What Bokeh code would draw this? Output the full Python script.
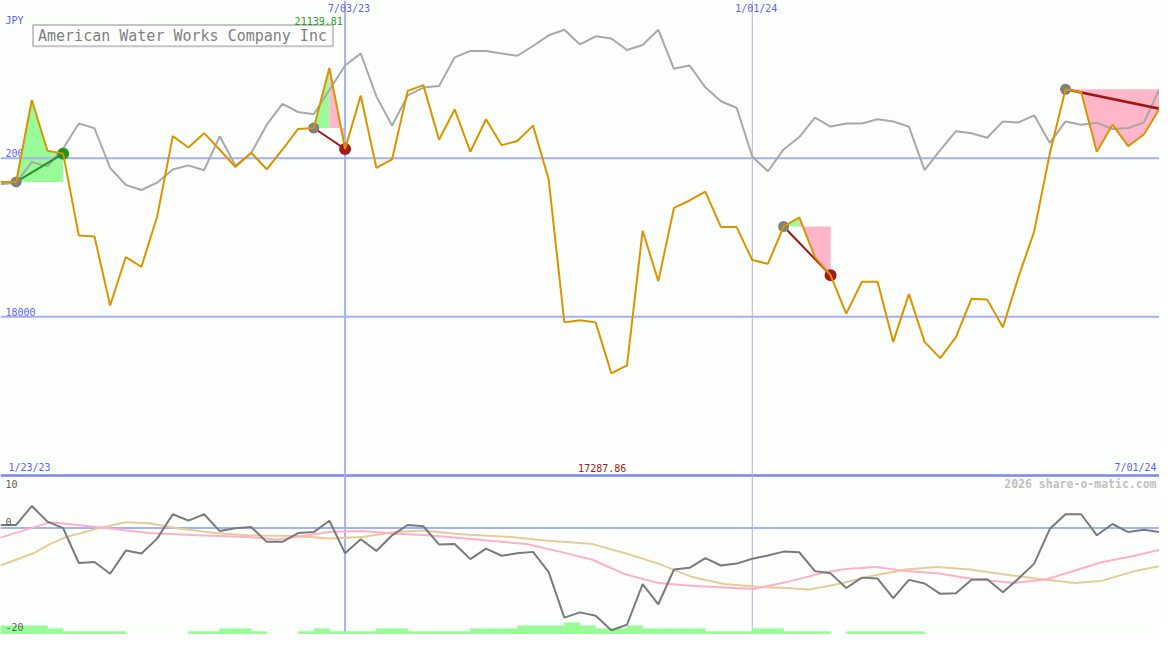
import pandas as pd
from bokeh.plotting import figure
from bokeh.models import Range1d
from bokeh.core.properties import value
from bokeh.embed import file_html
from bokeh.resources import INLINE

# ---------------- data ----------------
dates = pd.date_range("2023-01-30", periods=75, freq="7D")
date_ticks = ["7/03/23", "1/01/24"]
edge_labels = ["1/23/23", "7/01/24"]
price_ticks = [20000, 18000]
title = "American Water Works Company Inc"
currency = "JPY"

price = [19701, 19701, 20734, 20095, 20058, 19025, 19012, 18143, 18754, 18631,
         19262, 20279, 20135, 20316, 20107, 19889, 20070, 19861, 20107, 20369,
         20381, 21139.81, 20116, 20792, 19877, 19984, 20849, 20922, 20234, 20615,
         20082, 20492, 20165, 20218, 20411, 19734, 17930, 17958, 17930, 17287.86,
         17389, 19086, 18450, 19373, 19467, 19578, 19132, 19132, 18717, 18668,
         19139, 19255, 18754, 18524, 18041, 18443, 18443, 17684, 18287, 17684,
         17479, 17745, 18229, 18217, 17868, 18504, 19078, 20062, 20870, 20833,
         20082, 20423, 20153, 20300, 20624]

compare = [19673, 19692, 19951, 19898, 20123, 20439, 20378, 19877, 19664, 19599,
           19692, 19857, 19910, 19849, 20276, 19907, 20062, 20423, 20685, 20583,
           20554, 20861, 21169, 21321, 20780, 20411, 20792, 20891, 20910, 21272,
           21353, 21353, 21321, 21292, 21415, 21550, 21620, 21435, 21538, 21509,
           21365, 21427, 21620, 21128, 21169, 20894, 20718, 20636, 20021, 19836,
           20111, 20267, 20513, 20399, 20439, 20439, 20492, 20464, 20399, 19849,
           20103, 20341, 20316, 20258, 20464, 20451, 20541, 20193, 20464, 20423,
           20448, 20369, 20381, 20451, 20873]

momentum = [0.55, 0.55, 4.10, 1.17, -0.05, -6.59, -6.40, -8.60, -4.26, -4.81,
            -2.01, 2.56, 1.35, 2.56, -0.60, -0.05, 0.18, -2.62, -2.62, -0.97,
            -0.79, 1.35, -4.76, -2.12, -4.32, -1.39, 0.55, 0.31, -3.11, -3.04,
            -5.86, -3.90, -5.23, -4.76, -4.50, -8.29, -16.83, -15.85, -16.47, -19.21,
            -18.17, -10.54, -14.33, -7.80, -7.50, -5.67, -7.06, -6.70, -5.78, -5.18,
            -4.45, -4.57, -8.11, -8.53, -11.27, -9.33, -9.51, -13.17, -9.75, -10.43,
            -12.37, -12.26, -9.75, -9.62, -12.08, -9.51, -6.70, -0.18, 2.56, 2.56,
            -1.39, 0.73, -0.79, -0.37, -0.79]

ma_pink_x = [0, 3.15, 6.3, 9.45, 12.6, 15.75, 17.6, 18.9, 21, 23.1, 25.2, 27.3, 30.4,
             33.6, 35.7, 37.8, 39.9, 42, 44.1, 46.2, 48.1, 50.4, 52.5, 54, 55.9, 57.8,
             59.8, 61.9, 64.7, 66.8, 68.8, 70.3, 72.4, 74]
ma_pink_y = [-1.83, 1.04, 0.13, -0.97, -1.39, -1.70, -2.20, -1.70, -0.79, -0.60, -1.10,
             -1.39, -2.20, -3.04, -4.45, -5.97, -8.71, -10.36, -10.85, -11.16, -11.45,
             -10.03, -8.42, -7.69, -7.32, -8.11, -8.53, -9.51, -10.36, -9.62, -7.80,
             -6.46, -5.23, -4.14]

ma_tan_x = [0, 2.1, 3.15, 4.2, 6.3, 8, 9.45, 11.5, 13.7, 15.75, 18.9, 21, 23.1, 25.2,
            26.9, 29.4, 32.6, 34.6, 37.8, 39.9, 42, 44.1, 46.2, 48.3, 50.4, 51.6, 53.5,
            55.6, 57.8, 59.8, 61.9, 64, 66.1, 68.6, 70.3, 72.4, 74]
ma_tan_y = [-7.06, -4.76, -3.04, -1.70, -0.05, 1.04, 0.86, -0.18, -0.97, -1.39, -1.52,
            -2.01, -1.70, -0.79, -0.48, -1.21, -1.70, -2.31, -3.04, -4.76, -6.70, -9.15,
            -10.54, -11.03, -11.34, -11.58, -10.54, -9.02, -7.80, -7.32, -7.80, -8.71,
            -9.51, -10.36, -9.94, -8.11, -7.19]

vol_level = [3, 3, 3, 2, 1, 1, 1, 1, 0, 0,
             0, 0, 1, 1, 2, 2, 1, 0, 0, 1,
             2, 1, 1, 1, 2, 2, 1, 1, 1, 1,
             2, 2, 2, 3, 3, 3, 4, 3, 2, 2,
             3, 2, 2, 2, 2, 1, 1, 1, 2, 2,
             1, 1, 1, 0, 1, 1, 1, 1, 1, 0,
             0, 0, 0, 0, 0, 0, 0, 0, 0, 0,
             0, 0, 0, 0, 0]
VOL_UNIT = 0.55

# (entry index, exit index, closed?)
trades = [(1, 4, True), (20, 22, True), (50, 53, True), (68, 74, False)]

osc_ticks = [10, 0, -20]
watermark = "2026 share-o-matic.com"

# ---------------- layout constants ----------------
W, H = 1159, 634
REF_W, REF_H = 1175, 650
N = len(price)
X_END = N - 1
P_TOP, P_BOT = 21989, 13994
O_TOP, O_BOT = 98.94, -20.0

def rx(px):
    return px / REF_W * X_END

def ryp(py):
    return P_TOP - py / REF_H * (P_TOP - P_BOT)

def ryo(py):
    return O_TOP - py / REF_H * (O_TOP - O_BOT)

BG = "#fcfefc"
BLUE_TXT = "#5a64f0"
GRID = "#a4b2f2"
ORANGE = "#d99400"
GRAY = "#a8a8a8"
GREEN_FILL = "#98fb98"
PINK_FILL = "#ffb6c8"
FONT = value("DejaVu Sans Mono")

p = figure(width=W, height=H, x_range=Range1d(0, X_END), y_range=Range1d(P_BOT, P_TOP),
           x_axis_type=None, y_axis_type=None, output_backend="svg",
           toolbar_location=None, min_border=0, background_fill_color=BG,
           border_fill_color=BG, outline_line_color=None)
p.extra_y_ranges = {"osc": Range1d(O_BOT, O_TOP)}

# price tick labels (drawn under fills)
p.text(x=[rx(5)] * len(price_ticks), y=price_ticks, text=[f"{t}" for t in price_ticks],
       text_font=FONT, text_font_size="10px", text_color=BLUE_TXT,
       text_align="left", text_baseline="bottom", y_offset=-1)

# trade fills: a segment is green when its end is above the entry level, pink otherwise;
# consecutive segments of the same colour are merged into one polygon
xs, ys, cols = [], [], []
for s, e, _ in trades:
    base = price[s]
    k = s
    while k < e:
        c = GREEN_FILL if price[k + 1] >= base else PINK_FILL
        j = k + 1
        while j < e and (GREEN_FILL if price[j + 1] >= base else PINK_FILL) == c:
            j += 1
        pts = list(range(k, j + 1))
        xs.append([k] + pts + [j])
        ys.append([base] + [price[m] for m in pts] + [base])
        cols.append(c)
        k = j
p.patches(xs, ys, fill_color=cols, line_color=None)

# grid lines
p.segment(x0=[0] * len(price_ticks), x1=[X_END] * len(price_ticks), y0=price_ticks,
          y1=price_ticks, line_color=GRID, line_width=2)
p.segment(x0=[0], x1=[X_END], y0=[16000], y1=[16000], line_color="#7a86ee", line_width=2.5)
p.segment(x0=[0], x1=[X_END], y0=[0], y1=[0], line_color=GRID, line_width=2,
          y_range_name="osc")

tick_idx = [int(dates.get_loc(pd.Timestamp(pd.to_datetime(d, format="%m/%d/%y")))) for d in date_ticks]
p.segment(x0=[tick_idx[0]], x1=[tick_idx[0]], y0=[P_BOT], y1=[P_TOP], line_color=GRID, line_width=2)
p.segment(x0=[tick_idx[1]], x1=[tick_idx[1]], y0=[P_BOT], y1=[P_TOP], line_color="#b0b6dc", line_width=1)

# lower panel
idx = list(range(N))
bl = [i for i in idx if vol_level[i] > 0]
p.quad(left=bl, right=[i + 1 for i in bl], bottom=[O_BOT] * len(bl),
       top=[O_BOT + vol_level[i] * VOL_UNIT for i in bl], fill_color=GREEN_FILL,
       line_color=GREEN_FILL, line_width=0.5, y_range_name="osc")
p.line(ma_tan_x, ma_tan_y, line_color="#e4cc98", line_width=2, y_range_name="osc")
p.line(ma_pink_x, ma_pink_y, line_color="#ffb0c6", line_width=2, y_range_name="osc")
p.line(idx, momentum, line_color="#7a7a7a", line_width=2, y_range_name="osc")

# comparison line
p.line(idx, compare, line_color=GRAY, line_width=2)

# trade connectors and markers
for s, e, closed in trades:
    up = price[e] >= price[s]
    p.line([s, e], [price[s], price[e]], line_color="#1e961e" if up else "#a01414",
           line_width=2 if closed else 2.5)
p.scatter([t[0] for t in trades], [price[t[0]] for t in trades], size=11,
          fill_color="#808080", line_color=None)
ends = [t for t in trades if t[2]]
p.scatter([t[1] for t in ends], [price[t[1]] for t in ends], size=12,
          fill_color=["#1e961e" if price[t[1]] >= price[t[0]] else "#a01c1c" for t in ends],
          line_color=None)

# price line
p.line(idx, price, line_color=ORANGE, line_width=2)

# title box
p.quad(left=[rx(33)], right=[rx(337)], top=[ryp(25)], bottom=[ryp(47)],
       fill_color="#fdfefd", line_color="#c4c4c4", line_width=2)
p.text(x=[rx(38)], y=[ryp(36)], text=[title], text_font=FONT, text_font_size="15px",
       text_color="#808080", text_align="left", text_baseline="middle")

# texts
def txt(x, y, s, color, size="10px", align="left", rng=None, style="normal"):
    kw = {"y_range_name": rng} if rng else {}
    p.text(x=[x], y=[y], text=[s], text_font=FONT, text_font_size=size,
           text_color=color, text_align=align, text_baseline="middle",
           text_font_style=style, **kw)

txt(rx(5), ryp(21), currency, BLUE_TXT)
for d, i in zip(date_ticks, tick_idx):
    txt(i + rx(4), ryp(8.5), d, BLUE_TXT, align="center")
imax = price.index(max(price))
imin = price.index(min(price))
txt(rx(347), ryp(21), f"{price[imax]:.2f}", "#22a022", align="right")
txt(rx(610), ryp(479), f"{price[imin]:.2f}", "#a01c1c", align="center")
txt(rx(8), ryp(479), edge_labels[0], BLUE_TXT)
txt(rx(1172), ryp(479), edge_labels[1], BLUE_TXT, align="right")
txt(rx(5), ryo(496), str(osc_ticks[0]), "#606060", rng="osc")
txt(rx(5), ryo(535), str(osc_ticks[1]), "#606060", rng="osc")
txt(rx(5), ryo(642), str(osc_ticks[2]), "#606060", rng="osc")
txt(rx(1172), ryo(496), watermark, "#c0c0c0", size="11.5px", align="right", rng="osc",
    style="bold")

open("out.html", "w").write(file_html(p, INLINE))
